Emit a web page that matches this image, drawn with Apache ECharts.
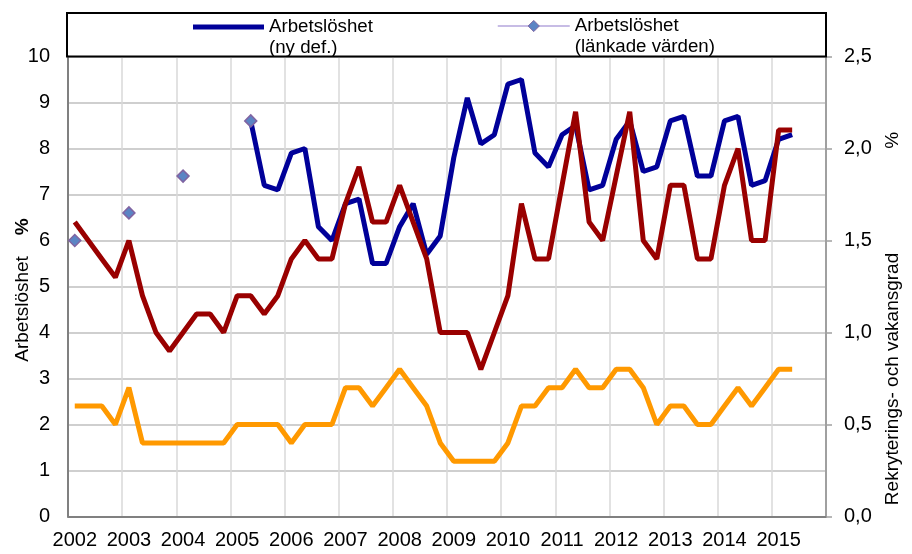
<!DOCTYPE html>
<html><head><meta charset="utf-8">
<script src="https://cdn.jsdelivr.net/npm/echarts@6/dist/echarts.min.js"></script>
<style>html,body{margin:0;padding:0;background:#fff}#c{width:912px;height:554px}</style>
</head><body><div id="c"></div>
<script>
// Year labels on the x axis (one label per year, quarterly data)
const yearLabels = ['2002','2003','2004','2005','2006','2007','2008','2009','2010','2011','2012','2013','2014','2015'];
const quarters = ['K1','K2','K3','K4'];
const categories = yearLabels.flatMap(y => quarters.map(q => y + q));

// Left axis ticks and right axis ticks
const leftTicks = [0,1,2,3,4,5,6,7,8,9,10];
const rightTicks = [0,0.5,1,1.5,2,2.5];

// Arbetslöshet (ny def.), %  — starts 2005K2
const unemploymentNew = [null,null,null,null,null,null,null,null,null,null,null,null,null,
  8.6,7.2,7.1,7.9,8.0,6.3,6.0,6.8,6.9,5.5,5.5,6.3,6.8,5.7,6.1,7.8,9.1,8.1,8.3,9.4,9.5,7.9,7.6,
  8.3,8.5,7.1,7.2,8.2,8.6,7.5,7.6,8.6,8.7,7.4,7.4,8.6,8.7,7.2,7.3,8.2,8.3];

// Arbetslöshet (länkade värden), %
const unemploymentLinked = [6.0,null,null,null,6.6,null,null,null,7.4,null,null,null,null,8.6];

// Rekryteringsgrad (right axis, %)
const recruitmentRate = [1.6,1.5,1.4,1.3,1.5,1.2,1.0,0.9,1.0,1.1,1.1,1.0,1.2,1.2,1.1,1.2,1.4,1.5,1.4,1.4,
  1.7,1.9,1.6,1.6,1.8,1.6,1.4,1.0,1.0,1.0,0.8,1.0,1.2,1.7,1.4,1.4,1.8,2.2,1.6,1.5,1.85,2.2,1.5,1.4,
  1.8,1.8,1.4,1.4,1.8,2.0,1.5,1.5,2.1,2.1];

// Vakansgrad (right axis, %)
const vacancyRate = [0.6,0.6,0.6,0.5,0.7,0.4,0.4,0.4,0.4,0.4,0.4,0.4,0.5,0.5,0.5,0.5,0.4,0.5,0.5,0.5,
  0.7,0.7,0.6,0.7,0.8,0.7,0.6,0.4,0.3,0.3,0.3,0.3,0.4,0.6,0.6,0.7,0.7,0.8,0.7,0.7,0.8,0.8,0.7,0.5,
  0.6,0.6,0.5,0.5,0.6,0.7,0.6,0.7,0.8,0.8];

const nameNew = 'Arbetslöshet\n(ny def.)';
const nameLinked = 'Arbetslöshet\n(länkade värden)';
const FONT = "'Liberation Sans', Arial, sans-serif";

const chart = echarts.init(document.getElementById('c'), null, {renderer: 'canvas'});
chart.setOption({
  animation: false,
  backgroundColor: '#fff',
  textStyle: {fontFamily: FONT},
  grid: {left: 68, right: 86, top: 56.5, bottom: 37.5, outerBoundsMode: 'none', containLabel: false},
  graphic: [
    {type: 'rect', z: 100, shape: {x: 67, y: 13, width: 759, height: 43.5},
     style: {fill: 'none', stroke: '#000', lineWidth: 2}, silent: true},
    {type: 'text', x: 23, y: 290, rotation: Math.PI / 2, silent: true,
     style: {text: '{a|Arbetslöshet}{b|%}', align: 'center', verticalAlign: 'middle',
       rich: {a: {fontSize: 19, fontFamily: FONT, fill: '#000'},
              b: {fontSize: 19, fontWeight: 'bold', fontFamily: FONT, fill: '#000', padding: [0, 0, 0, 21]}}}},
    {type: 'text', x: 893, y: 318.5, rotation: Math.PI / 2, silent: true,
     style: {text: '{a|Rekryterings- och vakansgrad}{b|%}', align: 'center', verticalAlign: 'middle',
       rich: {a: {fontSize: 19, fontFamily: FONT, fill: '#000'},
              b: {fontSize: 19, fontFamily: FONT, fill: '#000', padding: [0, 0, 0, 104]}}}}
  ],
  legend: [
    {data: [{name: nameNew, icon: 'rect'}], left: 193, top: -4.5, padding: 0,
     itemWidth: 71, itemHeight: 5, selectedMode: false,
     itemStyle: {color: '#000099', borderWidth: 0},
     formatter: n => '\n' + n,
     textStyle: {fontSize: 18.7, lineHeight: 21, color: '#000', fontFamily: FONT}},
    {data: [nameLinked], left: 497, top: -5.5, padding: 0,
     itemWidth: 72, itemHeight: 14, selectedMode: false,
     lineStyle: {width: 1.5, color: '#b4a6dc'},
     itemStyle: {color: '#5b84c4', borderColor: '#8064a2', borderWidth: 1},
     formatter: n => '\n' + n,
     textStyle: {fontSize: 18.7, lineHeight: 21, color: '#000', fontFamily: FONT}}
  ],
  xAxis: {
    type: 'category', data: categories, boundaryGap: true,
    axisLine: {show: true, lineStyle: {color: '#808080', width: 2}},
    axisTick: {show: false, interval: 3},
    axisLabel: {interval: 3, margin: 14, fontSize: 20, color: '#000', fontFamily: FONT,
      formatter: v => v.slice(0, 4)},
    splitLine: {show: true, interval: 3, lineStyle: {color: '#d9d9d9', width: 1.5}}
  },
  yAxis: [
    {type: 'value', min: 0, max: 10, interval: 1,
     axisLine: {show: true, lineStyle: {color: '#808080', width: 2}},
     axisTick: {show: false},
     axisLabel: {margin: 18, fontSize: 20, color: '#000', fontFamily: FONT,
       formatter: v => leftTicks.includes(v) ? String(v) : ''},
     splitLine: {show: true, lineStyle: {color: '#bfbfbf', width: 1.5}}},
    {type: 'value', min: 0, max: 2.5, interval: 0.5, position: 'right',
     axisLine: {show: true, lineStyle: {color: '#a0a0a0', width: 2}},
     axisTick: {show: true, inside: false, length: 6, lineStyle: {color: '#a0a0a0', width: 1.5}},
     axisLabel: {margin: 18, fontSize: 20, color: '#000', fontFamily: FONT,
       formatter: v => rightTicks.includes(v) ? v.toFixed(1).replace('.', ',') : ''},
     splitLine: {show: false}}
  ],
  series: [
    {name: nameNew, type: 'line', yAxisIndex: 0, data: unemploymentNew, symbol: 'none',
     lineStyle: {color: '#000099', width: 5}, itemStyle: {color: '#000099'}, z: 2, silent: true},
    {name: 'Rekryteringsgrad', type: 'line', yAxisIndex: 1, data: recruitmentRate, symbol: 'none',
     lineStyle: {color: '#990000', width: 5}, itemStyle: {color: '#990000'}, z: 3, silent: true},
    {name: 'Vakansgrad', type: 'line', yAxisIndex: 1, data: vacancyRate, symbol: 'none',
     lineStyle: {color: '#ff9900', width: 5}, itemStyle: {color: '#ff9900'}, z: 3, silent: true},
    {name: nameLinked, type: 'line', yAxisIndex: 0, data: unemploymentLinked, symbol: 'diamond',
     symbolSize: 12, showSymbol: true, showAllSymbol: true, connectNulls: false,
     lineStyle: {color: '#b4a6dc', width: 1.5},
     itemStyle: {color: '#5b84c4', borderColor: '#8064a2', borderWidth: 1.5}, z: 5, silent: true}
  ]
});
</script></body></html>
